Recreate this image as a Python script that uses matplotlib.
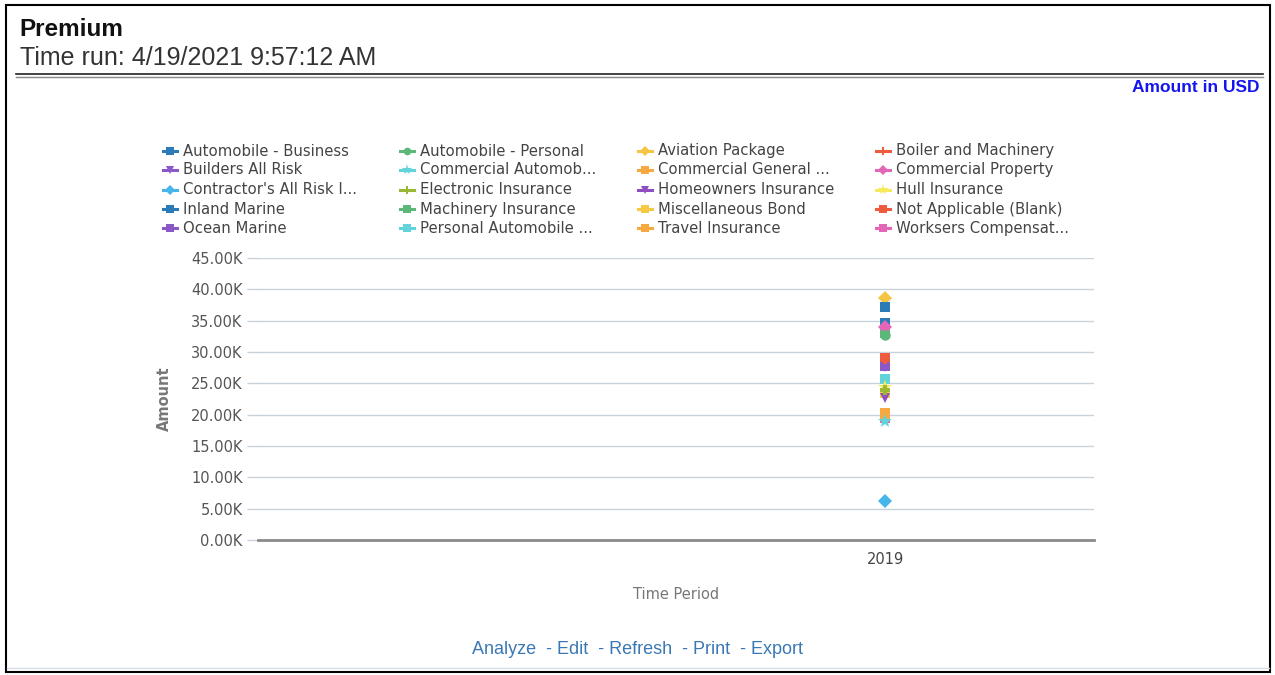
import matplotlib
matplotlib.use('Agg')
import matplotlib.pyplot as plt
from matplotlib.lines import Line2D
from matplotlib.patches import Rectangle
from matplotlib.ticker import FuncFormatter

# data (amounts in USD, single period)
periods = ['2019']
lines_of_business = [
    'Automobile - Business', 'Automobile - Personal', 'Aviation Package', 'Boiler and Machinery',
    'Builders All Risk', 'Commercial Automob...', 'Commercial General ...', 'Commercial Property',
    "Contractor's All Risk I...", 'Electronic Insurance', 'Homeowners Insurance', 'Hull Insurance',
    'Inland Marine', 'Machinery Insurance', 'Miscellaneous Bond', 'Not Applicable (Blank)',
    'Ocean Marine', 'Personal Automobile ...', 'Travel Insurance', 'Worksers Compensat...',
]
premium_2019 = [
    37200, 32700, 38600, 28900,
    27600, 19000, 20300, 34000,
    6200, 24000, 22700, 24400,
    34700, 33000, 23500, 29100,
    27800, 25700, 20000, 19400,
]
colors = [
    '#2b7bb9', '#5cb87a', '#f6c445', '#ee5b3f',
    '#8a58c8', '#62d4d9', '#f7a93f', '#e466b6',
    '#45b5ea', '#9bb832', '#8f4fc2', '#f4ea5c',
    '#2b7bb9', '#5cb87a', '#f6c945', '#ee5b3f',
    '#8a58c8', '#62d4d9', '#f7a93f', '#e466b6',
]
markers = ['s', 'o', 'D', 'P', 'v', '*', 's', 'D', 'D', 'P',
           'v', '*', 's', 's', 's', 's', 's', 's', 's', 's']

W, H = 1275, 675
fig = plt.figure(figsize=(W / 100, H / 100), dpi=100)

def fx(x):
    return x / W

def fy(y):
    return 1 - y / H

# frame and header
fig.add_artist(Rectangle((fx(6), fy(672)), fx(1270) - fx(6), fy(5) - fy(672),
                         transform=fig.transFigure, fill=False, edgecolor='black', linewidth=1.5))
fig.add_artist(Line2D([fx(16), fx(1263)], [fy(73.5), fy(73.5)], transform=fig.transFigure,
                      color='#222222', linewidth=1.2))
fig.add_artist(Line2D([fx(16), fx(1263)], [fy(76.5), fy(76.5)], transform=fig.transFigure,
                      color='#888888', linewidth=1.0))
fig.add_artist(Line2D([fx(7), fx(1269)], [fy(668), fy(668)], transform=fig.transFigure,
                      color='#d3dde8', linewidth=1.0))
fig.text(fx(19), fy(30), 'Premium', fontsize=17.5, fontweight='bold', family='Liberation Sans',
         va='center', ha='left', color='#111111')
fig.text(fx(20), fy(58), 'Time run: 4/19/2021 9:57:12 AM', fontsize=18, family='Liberation Sans',
         va='center', ha='left', color='#333333')
fig.text(fx(1260), fy(88), 'Amount in USD', fontsize=12.5, fontweight='bold', family='Liberation Sans',
         va='center', ha='right', color='#1515f0')
fig.text(fx(638), fy(650), 'Analyze  - Edit  - Refresh  - Print  - Export', fontsize=13,
         family='Liberation Sans', va='center', ha='center', color='#3a78b5')

# plot area
ax = fig.add_axes([fx(258), fy(540), fx(1094) - fx(258), fy(258) - fy(540)])
n = len(lines_of_business)
for i, name in enumerate(lines_of_business):
    ax.plot([0], [premium_2019[i]], linestyle='none', marker=markers[i], color=colors[i],
            markersize=7.5 if markers[i] != '*' else 10, markeredgewidth=0, clip_on=False,
            zorder=3 + (n - i) * 0.01)

ax.set_xlim(-1.5, 0.5)
ax.set_ylim(0, 45000)
ax.set_yticks(range(0, 45001, 5000))
ax.yaxis.set_major_formatter(FuncFormatter(lambda v, p: '%.2fK' % (v / 1000)))
ax.set_xticks([0])
ax.set_xticklabels(periods)
ax.grid(True, axis='y', color='#c8d2dd', linewidth=1)
ax.set_axisbelow(True)
for s in ['top', 'right', 'left']:
    ax.spines[s].set_visible(False)
ax.spines['bottom'].set_color('#8a8a8a')
ax.spines['bottom'].set_linewidth(2)
ax.tick_params(axis='y', length=8, color='#c8d2dd', width=1, labelsize=10.5, labelcolor='#555555', pad=3)
ax.tick_params(axis='x', length=0, labelsize=10.5, labelcolor='#444444', pad=9)
ax.set_ylabel('Amount', fontsize=10.5, fontweight='bold', color='#777777', labelpad=14)
ax.set_xlabel('Time Period', fontsize=10.5, color='#777777', labelpad=14)

# legend, four columns filled row by row
col_x = [170, 407, 645, 883]
row_y = [151, 170, 189.5, 209, 228.5]
for i, name in enumerate(lines_of_business):
    r, c = i // 4, i % 4
    x, y = col_x[c], row_y[r]
    fig.add_artist(Line2D([fx(x - 7), fx(x + 7)], [fy(y), fy(y)], transform=fig.transFigure,
                          color=colors[i], linewidth=2.2))
    fig.add_artist(Line2D([fx(x)], [fy(y)], transform=fig.transFigure, linestyle='none',
                          marker=markers[i], color=colors[i], markeredgewidth=0,
                          markersize=5.5 if markers[i] != '*' else 8))
    fig.text(fx(x + 13), fy(y), name, fontsize=10.7, color='#444444', va='center', ha='left')

fig.savefig('out.png', dpi=100)
